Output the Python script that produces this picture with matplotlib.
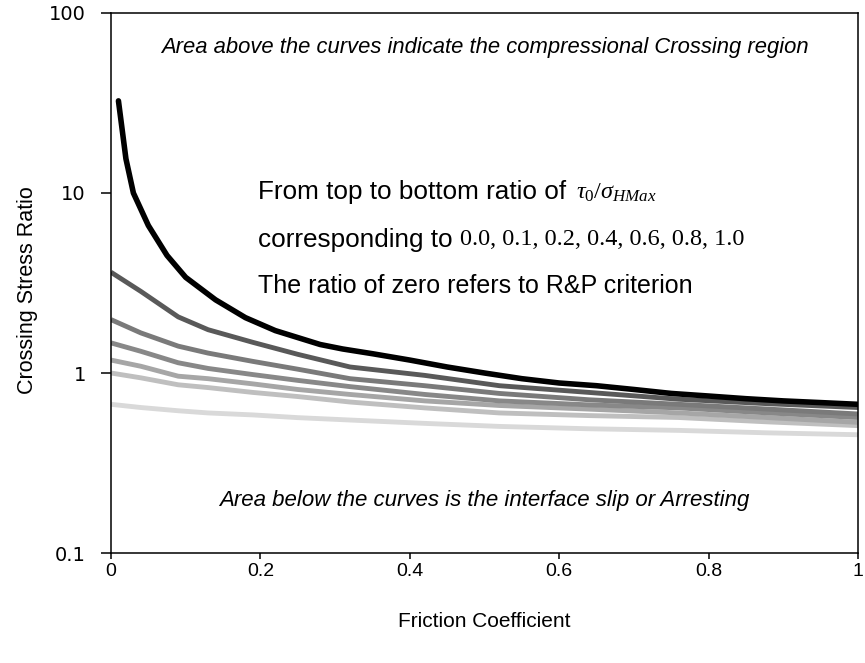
import numpy as np
import matplotlib.pyplot as plt
from matplotlib.ticker import FixedLocator, FixedFormatter, NullLocator

plt.rcParams['mathtext.fontset'] = 'custom'
plt.rcParams['mathtext.rm'] = 'Liberation Serif'
plt.rcParams['mathtext.it'] = 'Liberation Serif:italic'

SANS = 'Liberation Sans'

# R&P curve (ratio 0.0), read on its own grid since it starts near mu = 0.01
mu_rp = [0.01, 0.02, 0.03, 0.05, 0.075, 0.1, 0.14, 0.18, 0.22, 0.28, 0.31,
         0.35, 0.4, 0.45, 0.5, 0.55, 0.6, 0.65, 0.7, 0.75, 0.8, 0.85, 0.9,
         0.95, 1.0]
csr_rp = [32.5, 15.5, 10.0, 6.6, 4.5, 3.4, 2.55, 2.03, 1.72, 1.44, 1.36,
          1.28, 1.18, 1.08, 1.0, 0.93, 0.88, 0.85, 0.81, 0.77, 0.745, 0.72,
          0.70, 0.685, 0.67]

# curves for non-zero tau0/sigma_HMax
mu = [0, 0.04, 0.09, 0.13, 0.19, 0.25, 0.32, 0.42, 0.52, 0.64, 0.76, 0.88, 1.0]
csr_01 = [3.63, 2.84, 2.05, 1.74, 1.48, 1.27, 1.08, 0.97, 0.85, 0.78, 0.715, 0.675, 0.643]
csr_02 = [1.98, 1.67, 1.41, 1.29, 1.16, 1.05, 0.93, 0.85, 0.77, 0.71, 0.67, 0.63, 0.592]
csr_04 = [1.47, 1.32, 1.14, 1.06, 0.98, 0.91, 0.84, 0.76, 0.70, 0.665, 0.64, 0.60, 0.566]
csr_06 = [1.18, 1.09, 0.96, 0.93, 0.87, 0.81, 0.76, 0.70, 0.66, 0.63, 0.60, 0.565, 0.532]
csr_08 = [1.0, 0.94, 0.86, 0.83, 0.78, 0.74, 0.69, 0.64, 0.60, 0.58, 0.566, 0.535, 0.51]
csr_10 = [0.67, 0.643, 0.617, 0.60, 0.585, 0.565, 0.548, 0.525, 0.505, 0.49, 0.48, 0.465, 0.454]

gray_curves = [csr_01, csr_02, csr_04, csr_06, csr_08, csr_10]
gray_colors = ['#595959', '#7a7a7a', '#888888', '#a6a6a6', '#bfbfbf', '#d9d9d9']

xticks = [0, 0.2, 0.4, 0.6, 0.8, 1.0]
xticklabels = ['0', '0.2', '0.4', '0.6', '0.8', '1']
yticks = [0.1, 1, 10, 100]
yticklabels = ['0.1', '1', '10', '100']

fig = plt.figure(figsize=(8.65, 6.63), dpi=100)
ax = fig.add_axes([0.1283, 0.1659, 0.8636, 0.8145])

# lightest first so the darker curves sit on top
for vals, col in reversed(list(zip(gray_curves, gray_colors))):
  ax.plot(mu, vals, color=col, lw=3.5, solid_capstyle='butt')
ax.plot(mu_rp, csr_rp, color='black', lw=4.0, solid_capstyle='round')

ax.set_yscale('log')
ax.set_xlim(0, 1)
ax.set_ylim(0.1, 100)
ax.xaxis.set_major_locator(FixedLocator(xticks))
ax.xaxis.set_major_formatter(FixedFormatter(xticklabels))
ax.yaxis.set_major_locator(FixedLocator(yticks))
ax.yaxis.set_major_formatter(FixedFormatter(yticklabels))
ax.yaxis.set_minor_locator(NullLocator())
ax.tick_params(axis='y', direction='out', length=7, width=1.1, labelsize=14,
               pad=11)
ax.tick_params(axis='x', direction='out', length=4.5, width=1.1, pad=3)
for lab in ax.get_xticklabels():
  lab.set_family(SANS)
  lab.set_fontsize(14)
for sp in ax.spines.values():
  sp.set_linewidth(1.1)

ax.set_xlabel('Friction Coefficient', family=SANS, fontsize=15)
ax.xaxis.set_label_coords(0.5, -0.109)
ax.set_ylabel('Crossing Stress Ratio', family=SANS, fontsize=15.5)
ax.yaxis.set_label_coords(-0.098, 0.487)

ax.text(0.5, 0.937,
        'Area above the curves indicate the compressional Crossing region',
        transform=ax.transAxes, ha='center', va='center', style='italic',
        family=SANS, fontsize=15.8)
ax.text(0.5, 0.098,
        'Area below the curves is the interface slip or Arresting',
        transform=ax.transAxes, ha='center', va='center', style='italic',
        family=SANS, fontsize=16)

tx = 0.197
t1 = ax.text(tx, 0.669, 'From top to bottom ratio of', transform=ax.transAxes,
             ha='left', va='center', family=SANS, fontsize=18.8)
t2 = ax.text(tx, 0.580, 'corresponding to ', transform=ax.transAxes,
             ha='left', va='center', family=SANS, fontsize=18.8)
ax.text(tx, 0.494, 'The ratio of zero refers to R&P criterion',
        transform=ax.transAxes, ha='left', va='center', family=SANS,
        fontsize=18)
fig.canvas.draw()
inv = ax.transAxes.inverted()
b1 = t1.get_window_extent().transformed(inv)
b2 = t2.get_window_extent().transformed(inv)
ax.text(b1.x1 + 10 / 747, 0.669, r'$\tau_{\mathit{0}}/\sigma_{HMax}$',
        transform=ax.transAxes, ha='left', va='center', fontsize=17.5)
ax.text(b2.x1, 0.580, '0.0, 0.1, 0.2, 0.4, 0.6, 0.8, 1.0',
        transform=ax.transAxes, ha='left', va='center',
        family='Liberation Serif', fontsize=17.5)

fig.savefig('out.png', dpi=100)
